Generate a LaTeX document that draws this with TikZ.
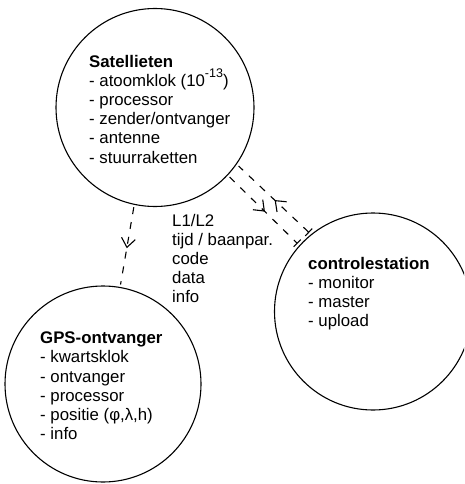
\documentclass[tikz,border=0pt]{standalone}
\usepackage{fontspec}
\setmainfont{Liberation Sans}
\usetikzlibrary{arrows.meta,decorations.markings}

\newcommand{\expo}[1]{\raisebox{0.5em}{\fontsize{12.5}{12.5}\selectfont #1}}

\tikzset{
  unit/.style={circle, draw, line width=1.1pt, minimum size=#1, inner sep=0pt, outer sep=3pt},
  listtext/.style={anchor=north west, align=left, inner sep=0pt,
    font=\fontsize{16.8}{19.2}\selectfont},
  link/.style={line width=1.1pt, dash pattern=on 7pt off 8pt},
  midarrow/.style={postaction={decorate}, decoration={markings,
    mark=at position #1 with {\arrow[solid,line width=1.1pt]{Straight Barb[length=9pt,width=14pt]}}}},
}

\begin{document}
\begin{tikzpicture}[x=1pt,y=-1pt]
\useasboundingbox (0,0) rectangle (464,484);
\clip (0,0) rectangle (464,484);

% the three units
\node[unit=198pt] (sat) at (155,107.5) {};
\node[unit=196pt] (gps) at (103,384) {};
\node[unit=197pt] (ctl) at (373,311.5) {};

% their contents (placed by the top of the first line)
\node[listtext] (sattxt) at (89,54.7) {\textbf{Satellieten}\\
  - atoomklok (10\expo{-13})\\
  - processor\\
  - zender/ontvanger\\
  - antenne\\
  - stuurraketten};
\node[listtext] (gpstxt) at (40,331.7) {\textbf{GPS-ontvanger}\\
  - kwartsklok\\
  - ontvanger\\
  - processor\\
  - positie (φ,λ,h)\\
  - info};
\node[listtext] (ctltxt) at (308,256.7) {\textbf{controlestation}\\
  - monitor\\
  - master\\
  - upload};
\node[listtext] (signal) at (172,213.7) {L1/L2\\
  tijd / baanpar.\\
  code\\
  data\\
  info};

% signal paths
\draw[link, midarrow=0.53] (sat.-102.5) -- (gps.80.2);
\draw[link, midarrow=0.52, -{Bar[width=10pt]}] (sat.-43.2) -- (ctl.138);
\draw[link, midarrow=0.49, {Bar[width=10pt]}-] (ctl.129.3) -- (sat.-35);
\end{tikzpicture}
\end{document}
